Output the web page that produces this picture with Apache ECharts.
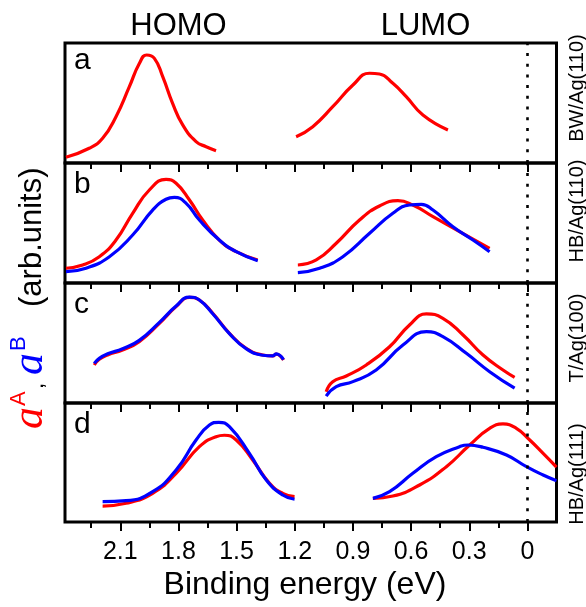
<!DOCTYPE html>
<html>
<head>
<meta charset="utf-8">
<script src="https://cdn.jsdelivr.net/npm/echarts@6/dist/echarts.min.js"></script>
<style>
  html, body { margin: 0; padding: 0; background: #fff; }
  #chart { width: 586px; height: 607px; }
</style>
</head>
<body>
<div id="chart"></div>
<script>
// Binding-energy axis (eV), drawn reversed
const xMin = -0.15;
const xMax = 2.385;
const majorTicks = [0, 0.3, 0.6, 0.9, 1.2, 1.5, 1.8, 2.1];
const majorTickLabels = ['0', '0.3', '0.6', '0.9', '1.2', '1.5', '1.8', '2.1'];
const minorTicks = [0.15, 0.45, 0.75, 1.05, 1.35, 1.65, 1.95, 2.25];

const panelLetters = ['a', 'b', 'c', 'd'];
const panelSystems = ['BW/Ag(110)', 'HB/Ag(110)', 'T/Ag(100)', 'HB/Ag(111)'];

// [binding energy (eV), intensity (arb. units)]
const aHomoA = [[2.380,0.048],[2.260,0.123],[2.191,0.206],[2.122,0.386],[2.053,0.636],[2.001,0.831],[1.964,0.900],[1.924,0.872],[1.881,0.719],[1.830,0.497],[1.778,0.317],[1.709,0.178],[1.657,0.136],[1.606,0.103]];
const aLumoA = [[1.193,0.219],[1.107,0.303],[1.004,0.469],[0.900,0.650],[0.814,0.748],[0.763,0.742],[0.694,0.664],[0.625,0.553],[0.539,0.400],[0.410,0.275]];

const bHomoA = [[2.380,0.123],[2.294,0.150],[2.208,0.219],[2.122,0.358],[2.036,0.581],[1.950,0.775],[1.864,0.864],[1.812,0.831],[1.743,0.692],[1.675,0.525],[1.589,0.358],[1.502,0.261],[1.391,0.192]];
const bHomoB = [[2.380,0.094],[2.277,0.123],[2.156,0.219],[2.036,0.400],[1.933,0.608],[1.864,0.698],[1.821,0.714],[1.760,0.664],[1.692,0.525],[1.589,0.358],[1.502,0.261],[1.391,0.186]];
const bLumoA = [[1.184,0.150],[1.089,0.192],[0.986,0.331],[0.866,0.525],[0.763,0.642],[0.668,0.686],[0.591,0.650],[0.487,0.553],[0.350,0.428],[0.195,0.289]];
const bLumoB = [[1.184,0.086],[1.072,0.123],[0.952,0.219],[0.814,0.414],[0.694,0.581],[0.608,0.650],[0.547,0.656],[0.487,0.608],[0.384,0.469],[0.281,0.358],[0.195,0.261]];

const cHomoA = [[2.234,0.317],[2.208,0.364],[2.165,0.400],[2.088,0.442],[2.002,0.511],[1.898,0.664],[1.812,0.803],[1.743,0.881],[1.692,0.858],[1.623,0.748],[1.537,0.581],[1.451,0.456],[1.365,0.400],[1.313,0.392],[1.296,0.408],[1.258,0.358]];
const cHomoB = [[2.234,0.330],[2.208,0.372],[2.165,0.410],[2.088,0.452],[2.002,0.522],[1.898,0.672],[1.812,0.808],[1.743,0.883],[1.692,0.858],[1.623,0.744],[1.537,0.578],[1.451,0.453],[1.365,0.398],[1.313,0.392],[1.296,0.410],[1.258,0.362]];
const cLumoA = [[1.038,0.094],[1.004,0.178],[0.934,0.225],[0.831,0.317],[0.711,0.469],[0.608,0.650],[0.521,0.742],[0.436,0.706],[0.332,0.567],[0.229,0.400],[0.126,0.275],[0.066,0.214]];
const cLumoB = [[1.038,0.058],[0.986,0.136],[0.900,0.178],[0.780,0.275],[0.642,0.483],[0.521,0.594],[0.436,0.553],[0.315,0.414],[0.195,0.261],[0.066,0.123]];

const dHomoA = [[2.191,0.134],[2.070,0.157],[1.933,0.241],[1.812,0.409],[1.692,0.633],[1.606,0.717],[1.563,0.729],[1.502,0.689],[1.417,0.521],[1.330,0.325],[1.262,0.241],[1.201,0.213]];
const dHomoB = [[2.191,0.171],[2.070,0.179],[1.933,0.255],[1.812,0.437],[1.709,0.689],[1.640,0.815],[1.592,0.838],[1.537,0.801],[1.434,0.577],[1.347,0.353],[1.262,0.227],[1.201,0.191]];
const dLumoA = [[0.797,0.199],[0.694,0.218],[0.556,0.311],[0.418,0.465],[0.298,0.647],[0.195,0.787],[0.126,0.824],[0.057,0.787],[-0.012,0.689],[-0.081,0.577],[-0.150,0.462]];
const dLumoB = [[0.797,0.199],[0.711,0.255],[0.591,0.409],[0.470,0.549],[0.350,0.633],[0.307,0.647],[0.229,0.628],[0.108,0.563],[0.005,0.465],[-0.081,0.395],[-0.150,0.347]];

const panelCurves = [
  { A: [aHomoA, aLumoA], B: [] },
  { A: [bHomoA, bLumoA], B: [bHomoB, bLumoB] },
  { A: [cHomoA, cLumoA], B: [cHomoB, cLumoB] },
  { A: [dHomoA, dLumoA], B: [dHomoB, dLumoB] }
];

const RED = '#ff0000';
const BLUE = '#0000ff';
const SANS = '"Liberation Sans", Arial, sans-serif';

const gridTops = [43, 163, 283, 403];
const gridHeights = [120, 120, 120, 119];

const grids = [], xAxes = [], yAxes = [], series = [];

gridTops.forEach((top, i) => {
  const last = i === gridTops.length - 1;
  grids.push({
    left: 65, width: 491.5, top: top, height: gridHeights[i],
    show: true, borderColor: '#000', borderWidth: 3, backgroundColor: 'transparent'
  });
  // major ticks (and labels on the bottom panel)
  xAxes.push({
    type: 'value', gridIndex: i, inverse: true, min: xMin, max: xMax,
    position: 'bottom',
    axisLine: { show: false },
    splitLine: { show: false },
    axisTick: { show: true, inside: false, length: 9, customValues: majorTicks,
      lineStyle: { color: '#000', width: 2 } },
    axisLabel: {
      show: last, customValues: majorTicks, margin: 18,
      fontFamily: SANS, fontSize: 25, color: '#000',
      formatter: v => {
        const k = majorTicks.findIndex(t => Math.abs(t - v) < 1e-6);
        return k >= 0 ? majorTickLabels[k] : '';
      }
    }
  });
  // minor ticks
  xAxes.push({
    type: 'value', gridIndex: i, inverse: true, min: xMin, max: xMax,
    position: 'bottom',
    axisLine: { show: false },
    splitLine: { show: false },
    axisTick: { show: true, inside: false, length: 6, customValues: minorTicks,
      lineStyle: { color: '#000', width: 2 } },
    axisLabel: { show: false }
  });
  yAxes.push({
    type: 'value', gridIndex: i, min: 0, max: 1, show: false
  });

  const xIdx = i * 2;
  const lineOpts = (data, color, withMark) => {
    const s = {
      type: 'line', xAxisIndex: xIdx, yAxisIndex: i, data: data,
      showSymbol: false, symbol: 'none', smooth: 0.5,
      lineStyle: { color: color, width: 3.2 }, z: color === BLUE ? 4 : 3,
      silent: true
    };
    if (withMark) {
      s.markLine = {
        silent: true, symbol: 'none', label: { show: false },
        lineStyle: { color: '#000', width: 2.6, type: [3, 7.7] },
        data: [{ xAxis: 0 }]
      };
    }
    return s;
  };
  panelCurves[i].A.forEach((d, k) => series.push(lineOpts(d, RED, k === 0)));
  panelCurves[i].B.forEach(d => series.push(lineOpts(d, BLUE, false)));
});

// text pieces; 'middle' anchor sits ~0.35 em above the baseline
const mid = (baseline, size) => baseline - 0.3465 * size;

const graphic = [
  { type: 'text', x: 178.5, y: mid(36.7, 31), style: { text: 'HOMO', fontFamily: SANS, fontSize: 31, fill: '#000', align: 'center', verticalAlign: 'middle' } },
  { type: 'text', x: 425.5, y: mid(36.7, 31), style: { text: 'LUMO', fontFamily: SANS, fontSize: 31, fill: '#000', align: 'center', verticalAlign: 'middle' } },
  { type: 'text', x: 305, y: mid(596.5, 32), style: { text: 'Binding energy (eV)', fontFamily: SANS, fontSize: 32, fill: '#000', align: 'center', verticalAlign: 'middle' } }
];

const letterBaselines = [71, 195, 315, 435];
panelLetters.forEach((t, i) => {
  graphic.push({ type: 'text', x: 74, y: mid(letterBaselines[i], 30),
    style: { text: t, fontFamily: SANS, fontSize: 30, fill: '#000', align: 'left', verticalAlign: 'middle' } });
});

const systemCenters = [88, 211, 338, 474];
panelSystems.forEach((t, i) => {
  graphic.push({ type: 'text', x: 577.6, y: systemCenters[i], rotation: Math.PI / 2,
    style: { text: t, fontFamily: SANS, fontSize: 20, fill: '#000', align: 'center', verticalAlign: 'middle' } });
});

// vertical axis title: a^A, a^B (arb.units)
const italicA = 'italic 44px "Liberation Serif", "DejaVu Serif", serif';
graphic.push({
  type: 'group', x: 45, y: 430, rotation: Math.PI / 2,
  children: [
    { type: 'text', x: 1, y: -0.3375 * 44, style: { text: 'a', font: italicA, fill: RED, align: 'left', verticalAlign: 'middle' } },
    { type: 'text', x: 24, y: mid(-18, 22), style: { text: 'A', fontFamily: SANS, fontSize: 22, fill: RED, align: 'left', verticalAlign: 'middle' } },
    { type: 'text', x: 41, y: mid(0, 22), style: { text: ',', fontFamily: SANS, fontSize: 22, fill: '#000', align: 'left', verticalAlign: 'middle' } },
    { type: 'text', x: 55, y: -0.3375 * 44, style: { text: 'a', font: italicA, fill: BLUE, align: 'left', verticalAlign: 'middle' } },
    { type: 'text', x: 79, y: mid(-18, 22), style: { text: 'B', fontFamily: SANS, fontSize: 22, fill: BLUE, align: 'left', verticalAlign: 'middle' } },
    { type: 'text', x: 123, y: mid(-1.5, 31), style: { text: '(arb.units)', fontFamily: SANS, fontSize: 31, fill: '#000', align: 'left', verticalAlign: 'middle' } }
  ]
});

const chart = echarts.init(document.getElementById('chart'), null, { renderer: 'canvas' });
chart.setOption({
  animation: false,
  backgroundColor: '#fff',
  grid: grids,
  xAxis: xAxes,
  yAxis: yAxes,
  series: series,
  graphic: graphic
});
</script>
</body>
</html>
